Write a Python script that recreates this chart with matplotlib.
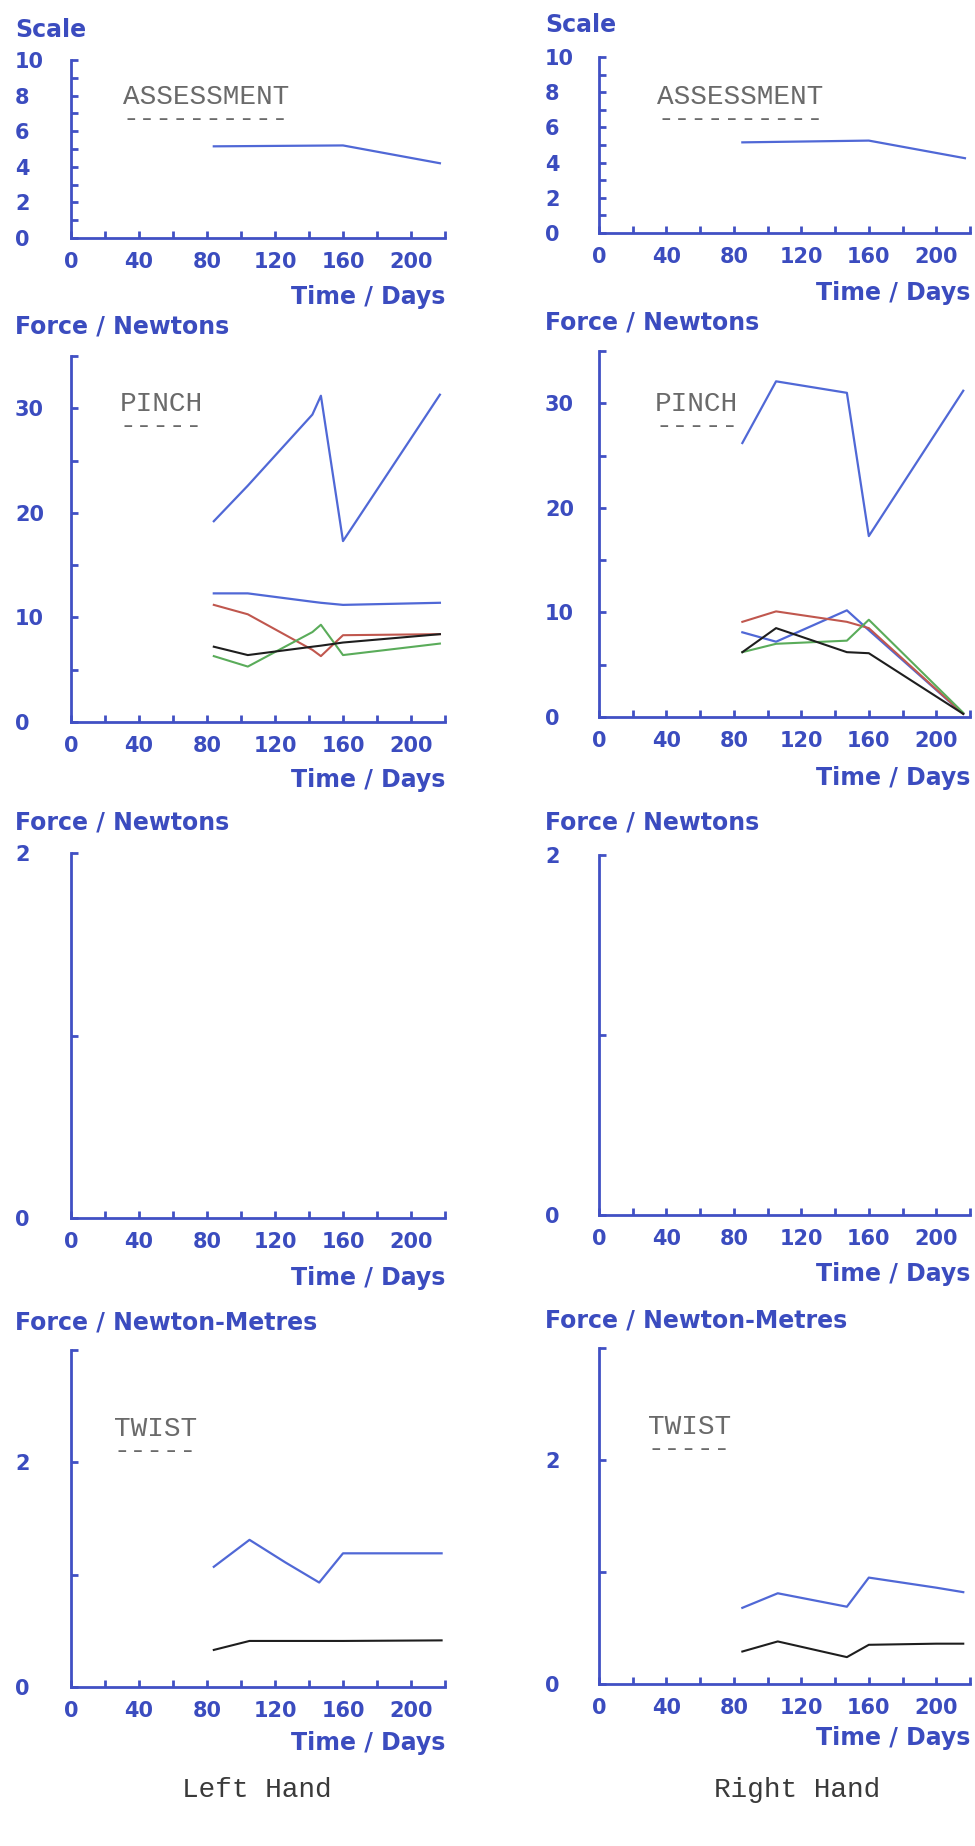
import matplotlib
matplotlib.use("Agg")
import matplotlib.pyplot as plt

# --- DATA ---
assess_days_L = [84, 160, 217]
assess_L = [5.15, 5.2, 4.2]
assess_days_R = [85, 160, 217]
assess_R = [5.15, 5.25, 4.25]

pinch_days_L = [84, 104, 142, 147, 160, 217]
pinch_L_blue1 = [19.2, 22.6, 29.4, 31.2, 17.3, 31.3]
pinch_L_blue2 = [12.3, 12.3, 11.5, 11.4, 11.2, 11.4]
pinch_L_red = [11.2, 10.3, 6.9, 6.3, 8.3, 8.4]
pinch_L_green = [6.3, 5.3, 8.6, 9.3, 6.4, 7.5]
pinch_L_black = [7.2, 6.4, 7.2, 7.3, 7.6, 8.4]

pinch_days_R = [85, 105, 147, 160, 216]
pinch_R_blue1 = [26.2, 32.1, 31.0, 17.3, 31.2]
pinch_R_blue2 = [8.1, 7.2, 10.2, 8.3, 0.3]
pinch_R_red = [9.1, 10.1, 9.1, 8.5, 0.3]
pinch_R_green = [6.2, 7.0, 7.3, 9.3, 0.4]
pinch_R_black = [6.2, 8.5, 6.2, 6.1, 0.3]

twist_days_L = [84, 105, 126, 146, 160, 218]
twist_L_blue = [1.07, 1.31, 1.11, 0.93, 1.19, 1.19]
twist_L_black = [0.33, 0.41, 0.41, 0.41, 0.41, 0.415]

twist_days_R = [85, 106, 147, 160, 200, 216]
twist_R_blue = [0.68, 0.81, 0.69, 0.95, 0.86, 0.82]
twist_R_black = [0.29, 0.38, 0.24, 0.35, 0.36, 0.36]

x_ticks = list(range(0, 221, 20))
x_labels = ["0", "", "40", "", "80", "", "120", "", "160", "", "200", ""]

# --- STYLE ---
W, H = 975, 1846
AXIS_C = "#4150c4"
TEXT_C = "#3b4cbf"
BLUE = "#5068d6"
RED = "#c0574e"
GREEN = "#5aac5a"
BLACK = "#1e1e1e"
GREY = "#6a6a6a"
PLOT_FONT = dict(family="DejaVu Sans", weight="bold", color=TEXT_C, fontsize=17)

fig = plt.figure(figsize=(W / 100, H / 100), dpi=100)
fig.patch.set_facecolor("white")


def px_text(x, y, s, **kw):
    fig.text(x / W, 1 - y / H, s, **kw)


def make_axes(x0, x1, ybot, ytop, ylim, yticks, ylabels, label_x):
    ax = fig.add_axes([x0 / W, 1 - ybot / H, (x1 - x0) / W, (ybot - ytop) / H])
    ax.set_xlim(0, 220)
    ax.set_ylim(*ylim)
    for s in ["top", "right"]:
        ax.spines[s].set_visible(False)
    for s in ["left", "bottom"]:
        ax.spines[s].set_color(AXIS_C)
        ax.spines[s].set_linewidth(2.0)
    ax.set_facecolor("none")
    ax.set_xticks(x_ticks)
    ax.set_xticklabels(x_labels)
    ax.set_yticks(yticks)
    ax.set_yticklabels(ylabels)
    ax.tick_params(direction="in", length=5, width=2, color=AXIS_C, labelcolor=TEXT_C,
                   labelsize=15)
    ax.tick_params(axis="x", pad=10)
    ax.tick_params(axis="y", pad=(x0 - label_x) * 0.72)
    for lab in ax.get_yticklabels():
        lab.set_horizontalalignment("left")
        lab.set_fontweight("bold")
    for lab in ax.get_xticklabels():
        lab.set_fontweight("bold")
    return ax


def caption(x, y, word):
    # typed label with its dashed underline, as one block of text
    px_text(x, y, word + "\n" + "-" * len(word), va="top", ha="left",
            family="Liberation Mono", color=GREY, fontsize=20, linespacing=0.8)


columns = [
    dict(x0=71, x1=445, lab=15, off=[(238, 60), (722, 356), (1218, 853), (1687, 1350)],
         days=(assess_days_L, pinch_days_L, twist_days_L),
         assess=assess_L,
         pinch=(pinch_L_blue1, pinch_L_blue2, pinch_L_red, pinch_L_green, pinch_L_black),
         twist=(twist_L_blue, twist_L_black),
         titles=[(30, 297), (327, 780), (823, 1278), (1322, 1743)],
         cap=[(123, 84), (120, 391), (114, 1416)], hand="Left Hand", hand_x=257),
    dict(x0=599, x1=970, lab=545, off=[(233, 57), (717, 351), (1215, 855), (1684, 1348)],
         days=(assess_days_R, pinch_days_R, twist_days_R),
         assess=assess_R,
         pinch=(pinch_R_blue1, pinch_R_blue2, pinch_R_red, pinch_R_green, pinch_R_black),
         twist=(twist_R_blue, twist_R_black),
         titles=[(25, 293), (323, 778), (823, 1274), (1320, 1738)],
         cap=[(657, 84), (655, 391), (648, 1414)], hand="Right Hand", hand_x=797),
]

y_specs = [
    ((0, 10), list(range(0, 11)), ["0", "", "2", "", "4", "", "6", "", "8", "", "10"]),
    ((0, 35), list(range(0, 36, 5)), ["0", "", "10", "", "20", "", "30", ""]),
    ((0, 2), [0, 1, 2], ["0", "", "2"]),
    ((0, 3), [0, 1, 2, 3], ["0", "", "2", ""]),
]
y_titles = ["Scale", "Force / Newtons", "Force / Newtons", "Force / Newton-Metres"]

for col in columns:
    axes = []
    for (ybot, ytop), (ylim, yt, yl) in zip(col["off"], y_specs):
        axes.append(make_axes(col["x0"], col["x1"], ybot, ytop, ylim, yt, yl, col["lab"]))
    ax_a, ax_p, ax_e, ax_t = axes
    d_a, d_p, d_t = col["days"]

    ax_a.plot(d_a, col["assess"], color=BLUE, lw=1.6, clip_on=False)

    b1, b2, r, g, k = col["pinch"]
    ax_p.plot(d_p, b1, color=BLUE, lw=1.6, clip_on=False)
    ax_p.plot(d_p, b2, color=BLUE, lw=1.6, clip_on=False)
    ax_p.plot(d_p, r, color=RED, lw=1.5, clip_on=False)
    ax_p.plot(d_p, g, color=GREEN, lw=1.5, clip_on=False)
    ax_p.plot(d_p, k, color=BLACK, lw=1.5, clip_on=False)

    tb, tk = col["twist"]
    ax_t.plot(d_t, tb, color=BLUE, lw=1.6, clip_on=False)
    ax_t.plot(d_t, tk, color=BLACK, lw=1.5, clip_on=False)

    # axis titles: y title above each panel, x title below right
    for (yt_y, xt_y), title in zip(col["titles"], y_titles):
        px_text(col["lab"], yt_y, title, va="center", ha="left", **PLOT_FONT)
        px_text(col["x1"], xt_y, "Time / Days", va="center", ha="right", **PLOT_FONT)

    for (cx, cy), word in zip(col["cap"], ["ASSESSMENT", "PINCH", "TWIST"]):
        caption(cx, cy, word)

    px_text(col["hand_x"], 1790, col["hand"], va="center", ha="center",
            family="Liberation Mono", color="#3a3a3a", fontsize=20)

fig.savefig("out.png", dpi=100, facecolor="white")
